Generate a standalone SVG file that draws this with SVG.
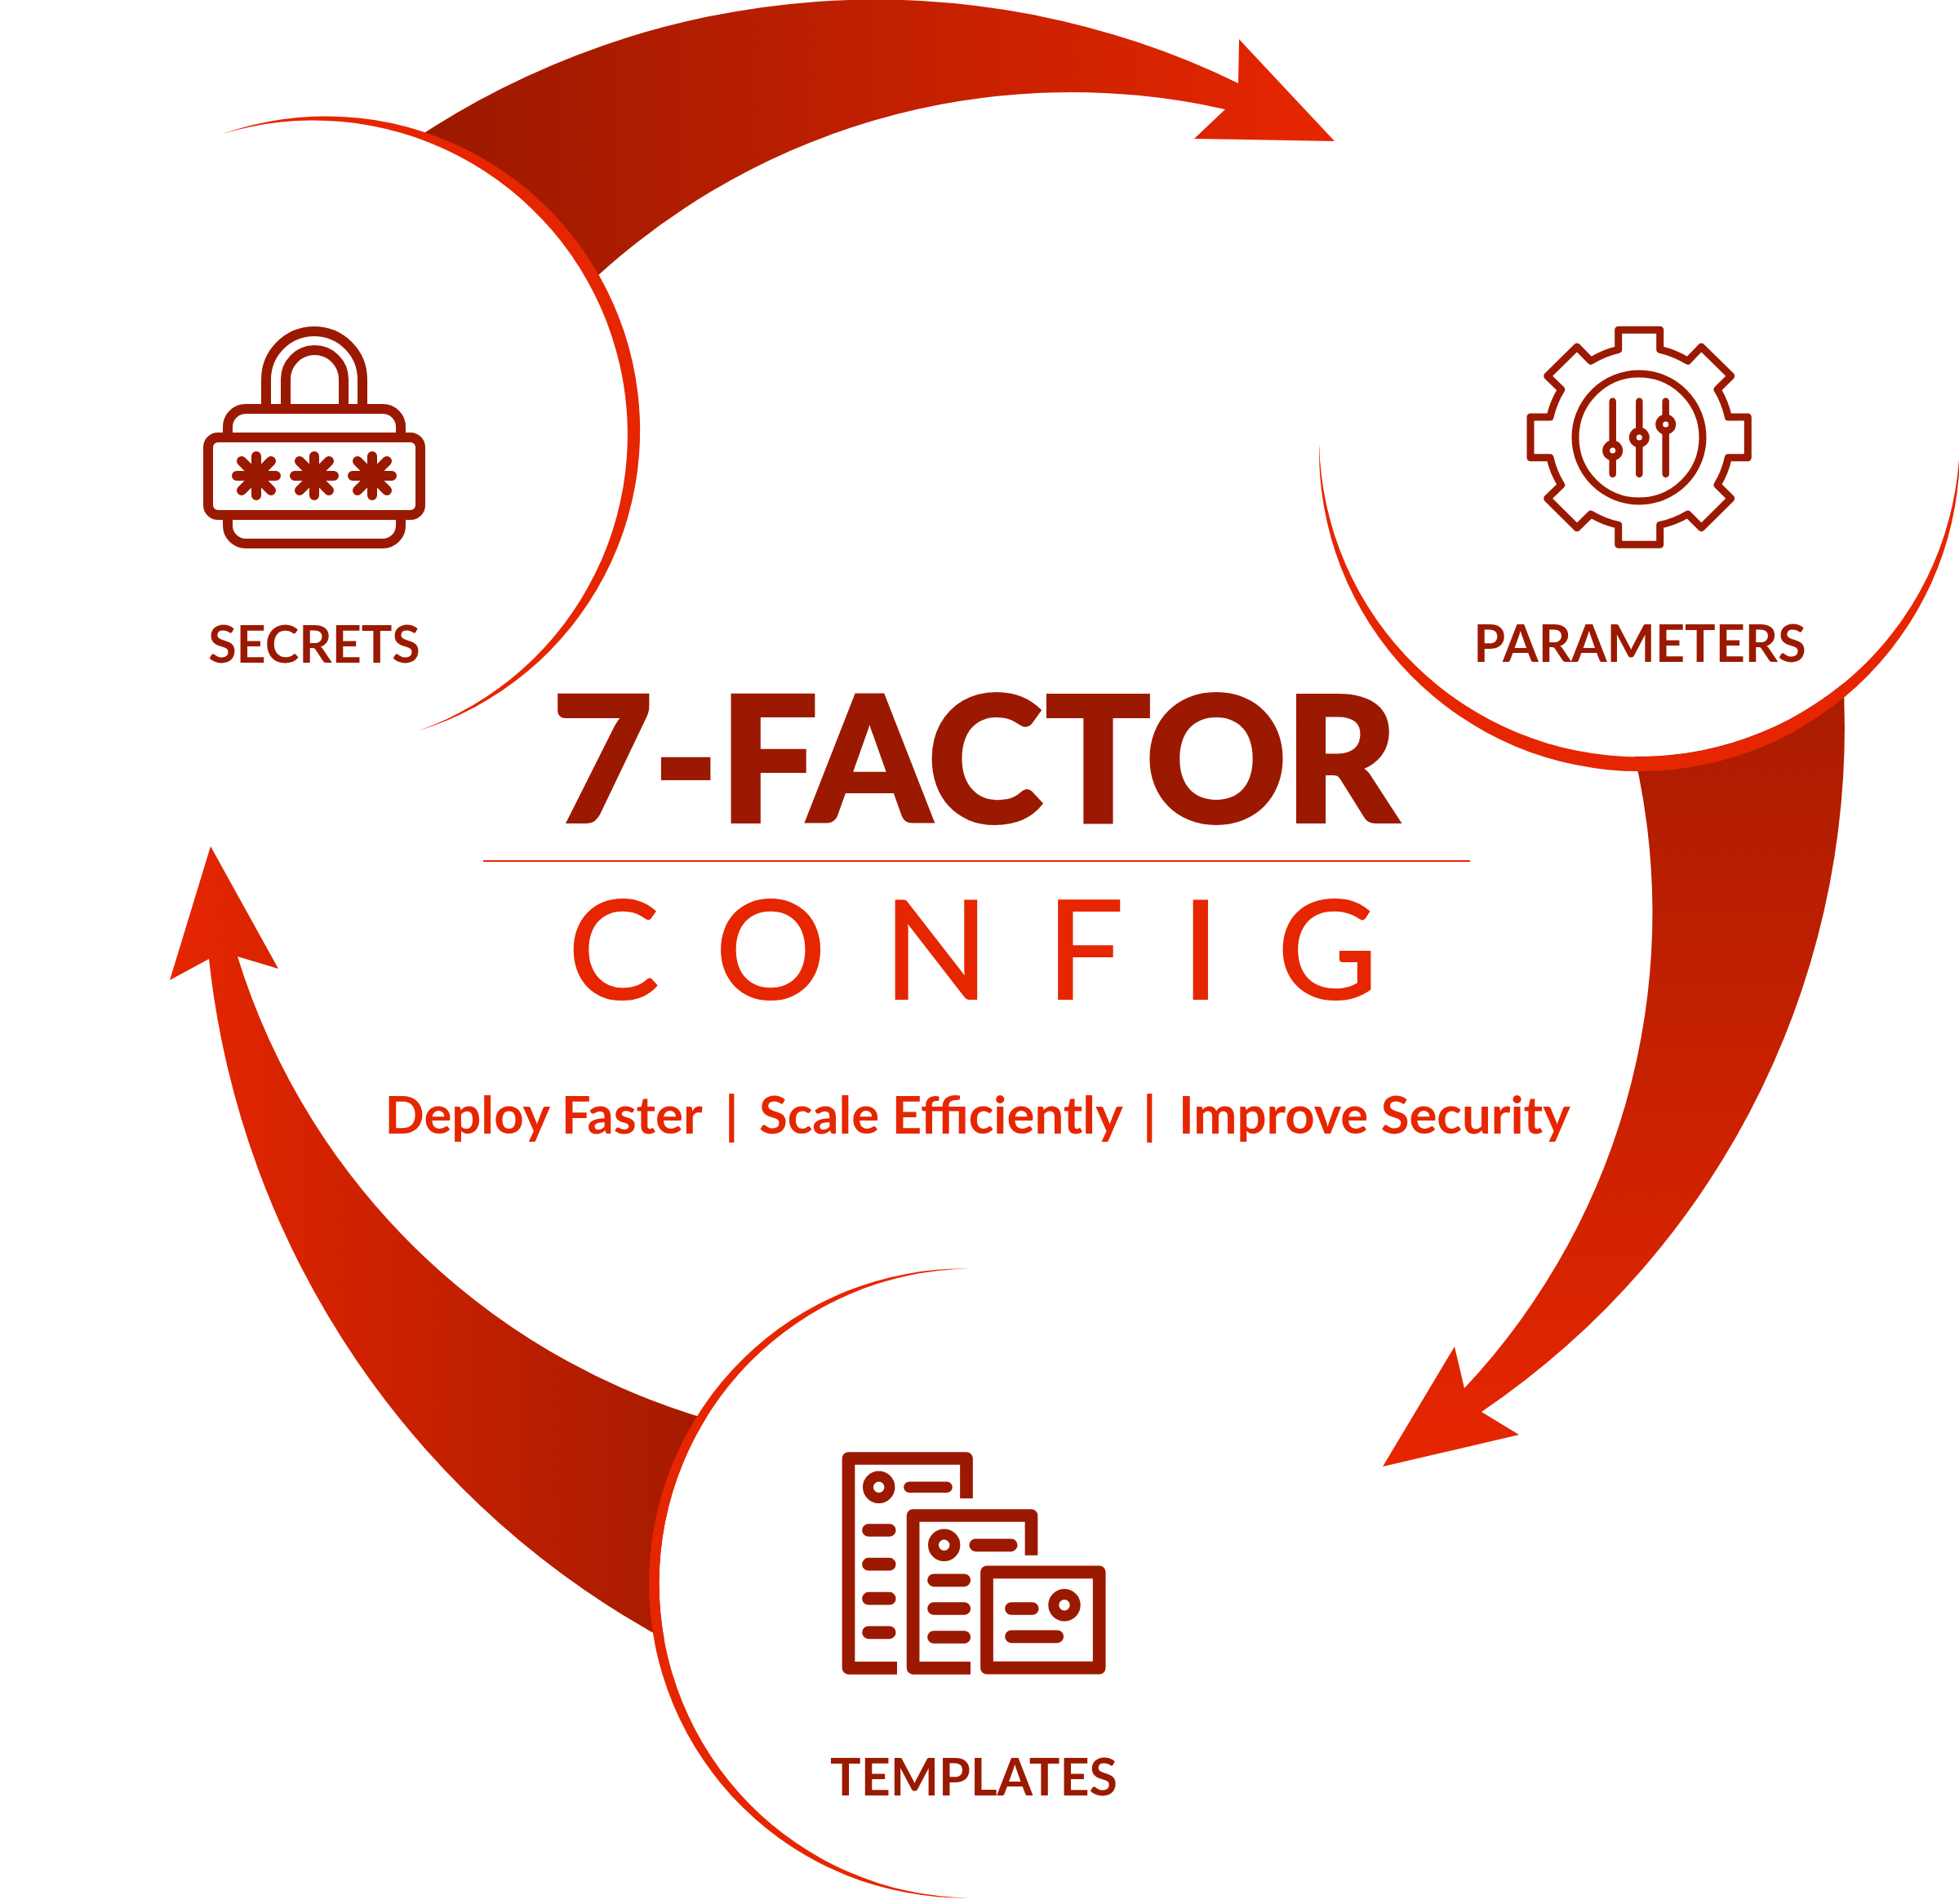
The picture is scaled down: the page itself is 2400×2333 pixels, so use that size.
<svg xmlns="http://www.w3.org/2000/svg" width="2400" height="2333" viewBox="0 0 2400 2333">
<style>
.crescent{fill:#e62600}
.disc{fill:#fff}
.label{font-family:"Lato","Noto Sans",sans-serif;font-weight:700;font-size:62.8px;fill:#9b1900;text-anchor:middle}
.ic{fill:none;stroke:#9b1900;stroke-linecap:round;stroke-linejoin:round}
.ic-b{fill:none;stroke:#9b1900;stroke-linecap:butt;stroke-linejoin:round}
</style>
<defs>
<linearGradient id="g1" gradientUnits="userSpaceOnUse" x1="520" y1="0" x2="1635" y2="0"><stop offset="0" stop-color="#9b1900"/><stop offset="1" stop-color="#e62600"/></linearGradient>
<linearGradient id="g2" gradientUnits="userSpaceOnUse" x1="0" y1="620" x2="0" y2="1797"><stop offset="0" stop-color="#9b1900"/><stop offset="1" stop-color="#e62600"/></linearGradient>
<linearGradient id="g3" gradientUnits="userSpaceOnUse" x1="950" y1="0" x2="208" y2="0"><stop offset="0" stop-color="#9b1900"/><stop offset="1" stop-color="#e62600"/></linearGradient>
<g id="ast"><g class="ic" stroke-width="12"><path d="M0,-24V24M-24,0H24M-18,-18L18,18M-18,18L18,-18"/></g><circle r="14" fill="#9b1900"/></g>
<g id="knob"><circle r="8" fill="#fff" stroke="#9b1900" stroke-width="9"/></g>
<g id="ring"><circle r="13.2" fill="none" stroke="#9b1900" stroke-width="13"/></g>
</defs>
<g id="connectors">
<path id="arrow-top" fill="url(#g1)" d="M500,176A1016,1016 0 0 1 1517,102L1518,48L1635,173L1463,170L1501,134A860,860 0 0 0 700,369Z"/>
<path id="arrow-right" fill="url(#g2)" d="M2257.4,820A1013,1013 0 0 1 1815,1730L1861,1758L1694,1797L1782,1650L1794,1701A852,852 0 0 0 1996,900Z"/>
<path id="arrow-left" fill="url(#g3)" d="M830,2017A1080,1080 0 0 1 256,1175L208,1201L258,1037L341,1187L291,1172A853,853 0 0 0 900,1748Z"/>
</g>
<g id="node-secrets">
<circle class="disc" cx="384.5" cy="532.3" r="385"/>
<path class="crescent" d="M271.4,164.3A385,385 0 1 1 511.6,895.7A385,385 0 0 0 271.4,164.3Z"/>
<g class="ic-b" stroke-width="12">
<path d="M326,495V465A59,59 0 0 1 444,465V495"/>
<path d="M350,495V464.5A35.5,35.5 0 0 1 421,464.5V495"/>
<path d="M279,530V523A22,22 0 0 1 301,501H469A22,22 0 0 1 491,523V530"/>
<rect x="255" y="536" width="260" height="95" rx="12"/>
<path d="M279,637V644A22,22 0 0 0 301,666H469A22,22 0 0 0 491,644V637"/>
</g>
<use href="#ast" x="314" y="583"/><use href="#ast" x="385" y="583"/><use href="#ast" x="456" y="583"/>
<text class="label" x="385" y="812">SECRETS</text>
</g>
<g id="node-parameters">
<circle class="disc" cx="2008.5" cy="534.5" r="392.5"/>
<path class="crescent" d="M1616.1,543.75A392.5,392.5 0 1 0 2400.9,543.75A392.5,392.5 0 0 1 1616.1,543.75Z"/>
<g class="ic" stroke-width="9">
<path d="M1982.7,428.3V404.3H2033.7V428.3A110,110 0 0 1 2067.7,442.3L2084.3,425L2120.7,460.7L2104,477.3A110,110 0 0 1 2117.3,511H2141.3V560.7H2117.3A110,110 0 0 1 2104,594.3L2120.7,610.7L2084.3,646.7L2067.7,630A110,110 0 0 1 2033.7,643.3V667.3H1982.7V643.3A110,110 0 0 1 1949,630L1932,646.7L1895.7,610.7L1912.7,594.3A110,110 0 0 1 1899,560.7H1875V511H1899A110,110 0 0 1 1912.7,477.3L1895.7,460.7L1932,425L1949,442.3A110,110 0 0 1 1982.7,428.3Z"/>
<circle cx="2008" cy="536" r="78"/>
</g>
<g class="ic" stroke-width="8.5"><path d="M1975.7,491.7V580.7M2008.3,491.7V580.7M2040.7,491.7V580.7"/></g>
<use href="#knob" x="1975.7" y="552"/><use href="#knob" x="2008.3" y="536"/><use href="#knob" x="2040.7" y="520"/>
<text class="label" x="2009" y="810.5">PARAMETERS</text>
</g>
<g id="node-templates">
<circle class="disc" cx="1193" cy="1940" r="385.5"/>
<path class="crescent" d="M1186.75,1554.55A385.5,385.5 0 1 0 1186.75,2325.45A385.5,385.5 0 0 1 1186.75,1554.55Z"/>
<g class="ic-b" stroke-width="15.7">
<path d="M1099,2043.8H1039.5V1787H1184V1836"/>
<path d="M1189,2043.8H1118.6V1857H1263.5V1905.7"/>
<rect x="1209" y="1926.3" width="137.7" height="117.4"/>
</g>
<use href="#ring" x="1076.7" y="1822.3"/><use href="#ring" x="1156.7" y="1893.3"/><use href="#ring" x="1304" y="1966.7"/>
<g class="ic" stroke-width="13.5"><path d="M1114,1822.3H1160"/></g>
<g class="ic" stroke-width="15.7">
<path d="M1064,1875H1089.7M1064,1916.7H1089.7M1064,1958.7H1089.7M1064,2000.3H1089.7"/>
<path d="M1195.3,1893.3H1238.7M1144,1936.3H1181.3M1144,1971H1181.3M1144,2006H1181.3"/>
<path d="M1239,1971H1264.7M1239,2005.3H1295.3"/>
</g>
<text class="label" x="1193" y="2199.5">TEMPLATES</text>
</g>
<g id="title">
<text x="676" y="1006.5" dx="0 0 1.2 0.6 0.6 3.6 -2.4 -3" font-family="Lato,'Noto Sans',sans-serif" font-weight="900" font-size="214" fill="#9b1900" stroke="#9b1900" stroke-width="4">7-FACTOR</text>
<rect x="592" y="1054" width="1209" height="2" fill="#e62600"/>
<text x="695" y="1225" font-family="Lato,'Noto Sans',sans-serif" font-weight="500" font-size="171" letter-spacing="68.8" fill="#e62600">CONFIG</text>
<text y="1389" font-family="Lato,'Noto Sans',sans-serif" font-weight="700" font-size="63.5" fill="#e62600"><tspan x="471.5">Deploy Faster</tspan> <tspan x="888">|</tspan> <tspan x="930">Scale Efficiently</tspan> <tspan x="1400">|</tspan> <tspan x="1444">Improve Security</tspan></text>
</g>
</svg>
